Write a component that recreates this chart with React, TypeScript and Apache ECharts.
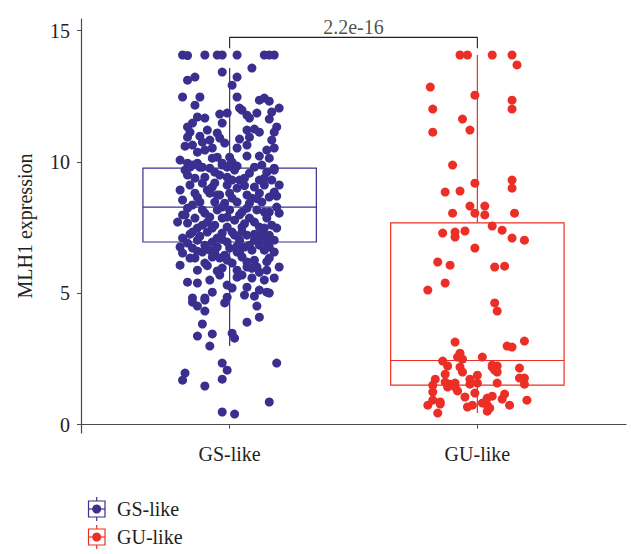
import React, { useEffect, useRef } from "react";
import * as echarts from "echarts";

const CATEGORIES = ["GS-like", "GU-like"];
const Y_TICKS = [0, 5, 10, 15];
const P_LABEL = "2.2e-16";

// box stats: [category index (1-based), low whisker, Q1, median, Q3, high whisker]
const GS_BOX = [1, 2.99, 6.95, 8.28, 9.76, 13.57];
const GU_BOX = [2, 0.44, 1.5, 2.44, 7.68, 14.07];

// jittered points: [horizontal jitter offset, value]
const GS_POINTS = [
  [-0.19, 14.07], [-0.17, 14.05], [-0.1, 14.07], [-0.05, 14.07], [-0.03, 14.07], [0.03, 14.07], [0.14, 14.07], [0.16, 14.07], [0.18, 14.07],
  [0.09, 13.57], [-0.03, 13.42], [-0.14, 13.23], [-0.17, 13.11], [0.03, 13.23], [0.01, 12.92], [-0.19, 12.47], [-0.12, 12.47],
  [-0.14, 12.16], [0.03, 12.47], [0.12, 12.35], [0.14, 12.43], [0.16, 12.31], [0.2, 12.05], [0.04, 12.05], [0.05, 11.97],
  [-0.04, 11.82], [-0.01, 11.86], [-0.13, 11.71], [-0.1, 11.67], [0.07, 11.78], [0.08, 11.67], [0.11, 11.86], [0.17, 11.9],
  [0.16, 11.63], [-0.03, 11.48], [-0.17, 11.33], [-0.15, 11.48], [0.19, 11.33], [0.18, 11.13], [-0.16, 11.13], [-0.17, 10.94],
  [-0.09, 11.21], [0.07, 11.21], [0.1, 11.25], [0.12, 11.13], [-0.05, 11.1], [-0.04, 10.91], [0.08, 10.94], [-0.12, 10.98],
  [-0.11, 10.75], [0.04, 10.87], [0.17, 10.83], [-0.18, 10.6], [-0.15, 10.64], [-0.08, 10.83], [-0.07, 10.53], [-0.02, 10.72],
  [0.03, 10.53], [0.07, 10.64], [0.15, 10.45], [0.18, 10.53], [-0.13, 10.37], [-0.1, 10.45], [-0.05, 10.18], [-0.07, 10.14],
  [0.0, 10.18], [0.01, 9.99], [0.07, 10.22], [0.12, 10.22], [0.16, 10.14], [-0.2, 10.07], [-0.17, 9.95], [-0.13, 9.95],
  [-0.11, 9.8], [-0.03, 9.88], [-0.01, 9.8], [0.03, 9.84], [0.1, 9.8], [0.13, 9.88], [0.18, 9.76], [-0.16, 9.8],
  [-0.15, 9.88], [-0.12, 9.8], [-0.08, 9.76], [-0.03, 9.95], [0.0, 9.88], [0.02, 9.69], [0.08, 9.57], [0.15, 9.61],
  [0.18, 9.69], [-0.17, 9.5], [-0.1, 9.42], [-0.04, 9.5], [-0.01, 9.42], [0.04, 9.31], [0.12, 9.31], [0.17, 9.31],
  [-0.16, 9.12], [-0.11, 9.19], [-0.07, 9.04], [-0.01, 9.12], [0.03, 9.0], [0.1, 9.04], [0.14, 9.12], [0.18, 8.85],
  [-0.2, 8.93], [-0.14, 8.81], [-0.08, 8.81], [-0.04, 8.74], [0.0, 8.81], [0.07, 8.74], [0.12, 8.81], [-0.19, 8.55],
  [-0.12, 8.47], [-0.06, 8.47], [-0.02, 8.43], [0.03, 8.47], [0.08, 8.43], [0.13, 8.47], [0.19, 8.28], [-0.17, 8.24],
  [-0.11, 8.17], [-0.05, 8.17], [0.0, 8.17], [0.05, 8.09], [0.11, 8.17], [0.16, 8.09], [-0.19, 7.98], [-0.14, 7.86],
  [-0.08, 7.9], [-0.03, 7.86], [0.02, 7.78], [0.08, 7.86], [0.15, 7.86], [0.2, 8.05], [-0.17, 7.67], [-0.11, 7.59],
  [-0.06, 7.59], [-0.01, 7.52], [0.05, 7.52], [0.12, 7.52], [0.17, 7.59], [-0.15, 7.33], [-0.09, 7.33], [-0.03, 7.29],
  [0.01, 7.33], [0.07, 7.21], [0.13, 7.33], [0.16, 7.21], [-0.19, 7.1], [-0.13, 7.02], [-0.07, 6.95], [-0.01, 6.95],
  [0.04, 7.02], [0.1, 7.02], [0.15, 6.95], [0.18, 7.02], [-0.2, 6.76], [-0.15, 6.72], [-0.1, 6.83], [-0.05, 6.76],
  [0.0, 6.72], [0.06, 6.76], [0.12, 6.83], [0.16, 6.76], [-0.19, 6.53], [-0.11, 6.57], [-0.06, 6.53], [-0.02, 6.45],
  [0.03, 6.57], [0.09, 6.64], [0.14, 6.64], [-0.14, 6.34], [-0.07, 6.38], [0.05, 6.38], [-0.13, 5.88], [-0.03, 5.96],
  [0.01, 6.15], [0.03, 5.88], [0.07, 6.0], [0.11, 6.0], [0.15, 5.88], [0.2, 6.0], [-0.17, 5.42], [-0.13, 5.39],
  [-0.04, 5.69], [0.03, 5.61], [0.09, 5.58], [0.18, 5.58], [0.01, 5.2], [0.07, 5.23], [0.12, 5.12], [0.15, 5.04],
  [-0.15, 4.82], [-0.1, 4.82], [-0.01, 4.85], [0.06, 4.93], [0.1, 4.89], [0.16, 5.01], [-0.15, 4.66], [-0.13, 4.51],
  [-0.1, 4.74], [-0.02, 4.63], [-0.1, 4.32], [0.11, 4.51], [0.12, 4.09], [-0.11, 3.83], [0.07, 3.9], [-0.07, 3.45],
  [-0.13, 3.37], [0.01, 3.48], [0.02, 3.29], [-0.08, 2.99], [-0.03, 2.34], [0.19, 2.34], [-0.01, 2.07], [-0.18, 1.96],
  [-0.19, 1.69], [-0.03, 1.73], [-0.1, 1.47], [0.16, 0.86], [-0.03, 0.48], [0.02, 0.4],
  [-0.18, 9.69], [-0.06, 9.61], [0.06, 9.38], [0.2, 9.12], [-0.09, 8.93], [0.01, 8.62], [0.16, 8.66], [-0.15, 8.36],
  [-0.03, 8.28], [0.07, 8.24], [0.14, 8.09], [-0.1, 8.05], [0.04, 7.98], [-0.21, 7.71], [0.1, 7.71], [0.19, 7.48],
  [-0.07, 7.48], [0.02, 7.21], [-0.12, 7.17], [-0.05, 7.1], [0.13, 7.1], [-0.17, 6.91], [0.08, 6.83], [0.03, 6.79],
  [-0.08, 6.64], [0.18, 6.57], [-0.16, 6.34], [-0.01, 6.26], [0.1, 6.26], [0.16, 6.34], [-0.1, 6.15], [0.05, 5.69],
  [-0.08, 5.5], [0.14, 5.5], [-0.2, 6.07], [-0.01, 5.31], [-0.07, 5.04], [-0.14, 9.38], [0.01, 9.31], [0.14, 9.38],
  [-0.05, 8.74], [0.09, 8.62], [-0.18, 7.98], [-0.01, 7.9], [0.14, 7.48], [0.05, 7.33], [-0.13, 7.48], [-0.04, 6.34],
  [0.07, 6.19], [0.12, 5.8],
  [-0.06, 9.2], [0.06, 9.1], [-0.13, 8.65], [0.11, 8.6], [-0.09, 7.7], [0.06, 7.65], [-0.16, 7.25], [0.1, 7.25],
  [-0.03, 7.05], [0.04, 6.55], [-0.13, 6.6], [0.15, 6.2], [-0.05, 5.85], [0.09, 5.95], [-0.09, 6.05], [0.19, 8.7],
];

const GU_POINTS = [
  [-0.07, 14.07], [-0.04, 14.07], [0.06, 14.07], [0.14, 14.07], [0.16, 13.69], [-0.19, 12.85], [-0.01, 12.54], [-0.18, 12.01],
  [0.14, 12.35], [0.14, 12.01], [-0.06, 11.63], [-0.18, 11.13], [-0.03, 11.21], [-0.1, 9.88], [-0.01, 9.19], [0.14, 9.31],
  [0.14, 9.0], [-0.13, 8.85], [-0.07, 8.89], [-0.03, 8.32], [0.03, 8.32], [-0.1, 8.05], [-0.01, 8.05], [0.03, 7.98],
  [0.15, 8.05], [0.06, 7.56], [0.1, 7.4], [-0.14, 7.29], [-0.09, 7.33], [-0.09, 7.14], [-0.05, 7.37], [0.14, 7.1],
  [0.19, 7.02], [-0.01, 6.72], [-0.16, 6.19], [-0.11, 6.07], [0.07, 6.0], [0.11, 6.03], [-0.13, 5.39], [-0.2, 5.12],
  [0.07, 4.63], [0.08, 4.32], [-0.09, 3.14], [0.12, 2.99], [0.14, 2.95], [0.19, 3.18], [-0.07, 2.72], [-0.08, 2.57],
  [-0.06, 2.49], [0.02, 2.57], [-0.14, 2.42], [-0.12, 2.23], [-0.07, 2.19], [-0.06, 2.0], [0.06, 2.19], [0.07, 2.07],
  [0.08, 2.23], [0.06, 2.26], [0.08, 2.0], [0.17, 2.15], [-0.13, 1.92], [0.0, 1.88], [-0.17, 1.73], [-0.03, 1.73],
  [0.17, 1.77], [0.19, 1.77], [-0.13, 1.62], [-0.11, 1.54], [-0.09, 1.58], [-0.18, 1.5], [-0.03, 1.54], [0.0, 1.58],
  [0.08, 1.58], [0.19, 1.54], [-0.12, 1.43], [-0.09, 1.43], [-0.18, 1.24], [-0.08, 1.28], [-0.01, 1.2], [0.11, 1.16],
  [-0.05, 1.05], [0.06, 1.08], [0.04, 1.01], [-0.18, 0.93], [-0.15, 0.86], [0.1, 0.97], [0.2, 0.93], [-0.2, 0.74],
  [-0.15, 0.78], [-0.04, 0.67], [0.02, 0.82], [0.04, 0.74], [0.13, 0.74], [-0.02, 0.74], [0.05, 0.63], [0.04, 0.51],
  [-0.16, 0.44],
];

// significance bracket: [left end, right end, drop bottom, bracket top, label height]
const BRACKET = [1, 2, 14.33, 14.74, 15.13];

const GS_COLOR = "#3a2f8f";
const GU_COLOR = "#ec2f26";
const TEXT_COLOR = "#231f20";
const AXIS_COLOR = "#4a4a4a";
const FONT = "'Liberation Serif', 'DejaVu Serif', serif";

function boxRender(color: string) {
  return (params: any, api: any) => {
    const x = api.value(0);
    const pLow = api.coord([x, api.value(1)]);
    const pQ1 = api.coord([x, api.value(2)]);
    const pMed = api.coord([x, api.value(3)]);
    const pQ3 = api.coord([x, api.value(4)]);
    const pHigh = api.coord([x, api.value(5)]);
    const half = api.size([0.7, 0])[0] / 2;
    const style = { stroke: color, lineWidth: 1.2, fill: "none" };
    return {
      type: "group",
      children: [
        { type: "line", shape: { x1: pLow[0], y1: pLow[1], x2: pQ1[0], y2: pQ1[1] }, style },
        { type: "line", shape: { x1: pQ3[0], y1: pQ3[1], x2: pHigh[0], y2: pHigh[1] }, style },
        { type: "rect", shape: { x: pMed[0] - half, y: pQ3[1], width: half * 2, height: pQ1[1] - pQ3[1] }, style },
        { type: "line", shape: { x1: pMed[0] - half, y1: pMed[1], x2: pMed[0] + half, y2: pMed[1] }, style },
      ],
    };
  };
}

function legendItem(y: number, color: string, label: string) {
  const cx = 96.7;
  return [
    { type: "line", shape: { x1: cx, y1: y - 12, x2: cx, y2: y + 12 }, style: { stroke: color, lineWidth: 1.2 } },
    { type: "rect", shape: { x: 88.5, y: y - 8, width: 16.5, height: 16 }, style: { stroke: color, lineWidth: 1.2, fill: "#fff" } },
    { type: "line", shape: { x1: 88.5, y1: y, x2: 105, y2: y }, style: { stroke: color, lineWidth: 1.2 } },
    { type: "circle", shape: { cx, cy: y, r: 4.5 }, style: { fill: color } },
    { type: "text", x: 117, y, style: { text: label, fill: TEXT_COLOR, font: `20px ${FONT}`, verticalAlign: "middle", align: "left" } },
  ];
}

export default function App() {
  const ref = useRef<HTMLDivElement>(null);
  useEffect(() => {
    if (!ref.current) return;
    const chart = echarts.init(ref.current, null, { renderer: "svg" });
    const [bl, br, bBottom, bTop, bLabel] = BRACKET;
    chart.setOption({
      animation: false,
      backgroundColor: "#fff",
      textStyle: { fontFamily: FONT },
      grid: { left: 81, right: 5, top: 19, bottom: 121 },
      xAxis: {
        type: "value",
        min: 0.4,
        max: 2.6,
        splitLine: { show: false },
        axisLine: { show: true, lineStyle: { color: AXIS_COLOR, width: 1.2 } },
        axisTick: { show: true, length: 4, customValues: [1, 2], lineStyle: { color: AXIS_COLOR } },
        axisLabel: {
          customValues: [1, 2],
          formatter: (v: number) => CATEGORIES[Math.round(v) - 1],
          fontSize: 20,
          color: TEXT_COLOR,
          fontFamily: FONT,
          margin: 11,
        },
      },
      yAxis: {
        type: "value",
        min: -0.32,
        max: 15.44,
        name: "MLH1 expression",
        nameLocation: "middle",
        nameGap: 46,
        nameTextStyle: { fontSize: 20, color: TEXT_COLOR, fontFamily: FONT },
        splitLine: { show: false },
        axisLine: { show: true, lineStyle: { color: AXIS_COLOR, width: 1.2 } },
        axisTick: { show: true, length: 4, customValues: Y_TICKS, lineStyle: { color: AXIS_COLOR } },
        axisLabel: { customValues: Y_TICKS, fontSize: 20, color: TEXT_COLOR, fontFamily: FONT, margin: 11 },
      },
      series: [
        {
          type: "custom",
          renderItem: boxRender(GS_COLOR),
          data: [GS_BOX],
          encode: { x: 0, y: [1, 2, 3, 4, 5] },
          z: 1,
          silent: true,
        },
        {
          type: "custom",
          renderItem: boxRender(GU_COLOR),
          data: [GU_BOX],
          encode: { x: 0, y: [1, 2, 3, 4, 5] },
          z: 1,
          silent: true,
        },
        {
          type: "scatter",
          symbol: "circle",
          symbolSize: 9,
          itemStyle: { color: GS_COLOR, opacity: 1 },
          data: GS_POINTS.map(([dx, v]) => [1 + dx, v]),
          z: 3,
        },
        {
          type: "scatter",
          symbol: "circle",
          symbolSize: 9,
          itemStyle: { color: GU_COLOR, opacity: 1 },
          data: GU_POINTS.map(([dx, v]) => [2 + dx, v]),
          z: 3,
        },
        {
          type: "line",
          data: [[bl, bBottom], [bl, bTop], [br, bTop], [br, bBottom]],
          symbol: "none",
          lineStyle: { color: TEXT_COLOR, width: 1.1 },
          z: 4,
          silent: true,
        },
        {
          type: "scatter",
          symbolSize: 0,
          data: [[(bl + br) / 2, bLabel]],
          label: {
            show: true,
            position: "inside",
            formatter: P_LABEL,
            fontSize: 20,
            color: TEXT_COLOR,
            fontFamily: FONT,
          },
          z: 5,
          silent: true,
        },
      ],
      graphic: [...legendItem(509, GS_COLOR, CATEGORIES[0]), ...legendItem(537, GU_COLOR, CATEGORIES[1])],
    });
    return () => chart.dispose();
  }, []);
  return <div ref={ref} style={{ position: "fixed", left: 0, top: 0, width: 631, height: 554 }} />;
}
